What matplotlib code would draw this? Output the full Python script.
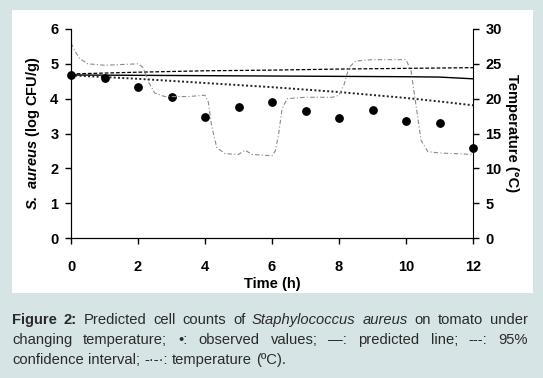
import matplotlib
matplotlib.use("Agg")
import matplotlib.pyplot as plt
from matplotlib.patches import Rectangle

plt.rcParams['font.family'] = ['Liberation Sans', 'DejaVu Sans']
plt.rcParams['mathtext.fontset'] = 'custom'
plt.rcParams['mathtext.bfit'] = 'Liberation Sans:italic:bold'

# observed counts (log CFU/g)
obs_t = [0, 1, 2, 3, 4, 5, 6, 7, 8, 9, 10, 11, 12]
obs_y = [4.68, 4.6, 4.33, 4.04, 3.47, 3.76, 3.91, 3.65, 3.45, 3.67, 3.36, 3.3, 2.57]

# predicted line and 95% CI
pred_t = [0, 2, 4, 6, 8, 10, 11, 12]
pred_y = [4.68, 4.67, 4.66, 4.65, 4.64, 4.63, 4.62, 4.57]
upper_y = [4.71, 4.76, 4.8, 4.82, 4.85, 4.87, 4.88, 4.89]
lower_y = [4.67, 4.57, 4.45, 4.33, 4.19, 4.02, 3.92, 3.81]

# temperature profile (deg C)
temp_t = [0, 0.1, 0.25, 0.5, 1.0, 1.5, 2.0, 2.15, 2.3, 2.5, 2.8, 3.5, 4.0, 4.1, 4.2,
          4.35, 4.6, 5.0, 5.2, 5.4, 6.0, 6.1, 6.2, 6.3, 6.45, 7.0, 7.8, 8.0, 8.15,
          8.3, 8.5, 9.0, 10.0, 10.15, 10.3, 10.45, 10.65, 11.0, 12.0]
temp_c = [28.0, 27.0, 25.8, 25.0, 24.8, 24.9, 25.0, 24.5, 22.5, 20.8, 20.3, 20.3, 20.5, 19.5, 16.0,
          13.0, 12.1, 12.0, 12.6, 12.0, 11.8, 12.5, 15.0, 18.5, 20.0, 20.2, 20.2, 20.5, 22.0,
          24.5, 25.4, 25.6, 25.6, 24.0, 19.0, 14.0, 12.4, 12.2, 12.0]

fig = plt.figure(figsize=(5.43, 3.78), dpi=100)
fig.patch.set_facecolor('#d6e4e5')
fig.add_artist(Rectangle((12/543, 85/378), 521/543, 283/378, transform=fig.transFigure,
                         facecolor='white', edgecolor='none', zorder=0))

ax = fig.add_axes([71/543, 140/378, 402/543, 209/378])
ax.set_facecolor('none')
ax2 = ax.twinx()

ax2.plot(temp_t, temp_c, color='#8a8a8a', lw=0.8, ls=(0, (4, 2, 1, 2)))
ax.plot(pred_t, pred_y, color='black', lw=1.0)
ax.plot(pred_t, upper_y, color='black', lw=0.9, ls=(0, (3, 1.5)))
ax.plot(pred_t, lower_y, color='#222222', lw=1.4, ls=(0, (1, 1.2)))
ax.scatter(obs_t, obs_y, s=28, color='black', zorder=5, clip_on=False)

ax.set_xlim(0, 12)
ax.set_ylim(0, 6)
ax2.set_ylim(0, 30)
ax.set_xticks(range(0, 13, 2))
ax.set_yticks(range(0, 7))
ax2.set_yticks(range(0, 31, 5))

for a in (ax, ax2):
    a.spines['top'].set_visible(False)
    a.tick_params(length=4, width=1.0, labelsize=10.5)
    for lab in a.get_xticklabels() + a.get_yticklabels():
        lab.set_fontweight('bold')
ax.tick_params(axis='x', pad=12)
ax.tick_params(axis='y', pad=5)
ax2.tick_params(axis='y', pad=5)
ax.spines['right'].set_visible(False)

ax.set_xlabel('Time (h)', fontsize=10.5, fontweight='bold', labelpad=2)
ax.set_ylabel(r'$\mathbfit{S.\ aureus}$ (log CFU/g)', fontsize=10.5, fontweight='bold', labelpad=6)
ax2.set_ylabel('Temperature (\u00b0C)', fontsize=10.5, fontweight='bold', rotation=270,
               labelpad=12)

# caption, justified like the journal layout
cap_color = '#2a2a2a'
fs = 10.6
left, right = 12, 528
lines = [
    ([('Figure', 'bold', 'normal'), ('2:', 'bold', 'normal'), ('Predicted', 'normal', 'normal'),
      ('cell', 'normal', 'normal'), ('counts', 'normal', 'normal'), ('of', 'normal', 'normal'),
      ('Staphylococcus', 'normal', 'italic'), ('aureus', 'normal', 'italic'),
      ('on', 'normal', 'normal'), ('tomato', 'normal', 'normal'), ('under', 'normal', 'normal')], 324, True),
    ([(w, 'normal', 'normal') for w in
      'changing temperature; \u2022: observed values; \u2014: predicted line; ---: 95%'.split()], 344, True),
    ([(w, 'normal', 'normal') for w in
      'confidence interval; -\u00b7-\u00b7: temperature (\u00baC).'.split()], 364, False),
]

renderer = fig.canvas.get_renderer()
probe = fig.text(0, 0, 'a a', fontsize=fs)
probe1 = fig.text(0, 0, 'aa', fontsize=fs)
space = probe.get_window_extent(renderer).width - probe1.get_window_extent(renderer).width
probe.remove()
probe1.remove()

for words, ypix, justify in lines:
    texts = []
    widths = []
    for w, weight, style in words:
        t = fig.text(0, 1 - ypix / 378, w, fontsize=fs, fontweight=weight, fontstyle=style,
                     color=cap_color, va='baseline', ha='left')
        texts.append(t)
        widths.append(t.get_window_extent(renderer).width)
    if justify:
        gap = (right - left - sum(widths)) / (len(words) - 1)
    else:
        gap = space
    x = left
    for t, wd in zip(texts, widths):
        t.set_x(x / 543)
        x += wd + gap

fig.savefig('out.png', dpi=100, facecolor=fig.get_facecolor())
